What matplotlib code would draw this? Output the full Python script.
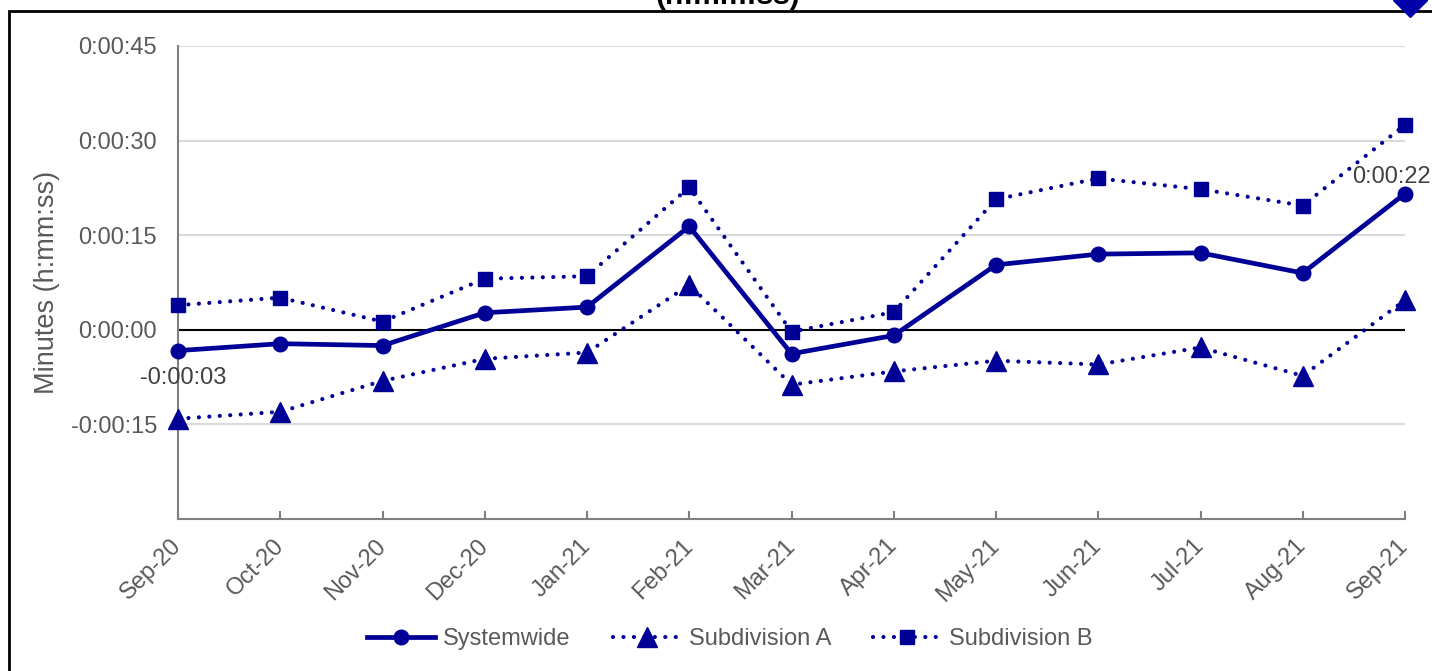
import matplotlib
matplotlib.use("Agg")
import matplotlib.pyplot as plt
from matplotlib.lines import Line2D
from matplotlib.patches import Rectangle

plt.rcParams['font.family'] = ['Liberation Sans', 'DejaVu Sans']

months = ["Sep-20", "Oct-20", "Nov-20", "Dec-20", "Jan-21", "Feb-21", "Mar-21",
          "Apr-21", "May-21", "Jun-21", "Jul-21", "Aug-21", "Sep-21"]
# values in seconds
systemwide = [-3.3, -2.2, -2.5, 2.7, 3.6, 16.4, -3.8, -0.9, 10.3, 12.0, 12.2, 9.0, 21.6]
subdivision_a = [-14.1, -13.0, -8.1, -4.6, -3.6, 7.1, -8.7, -6.6, -4.9, -5.5, -2.8, -7.3, 4.7]
subdivision_b = [3.9, 5.1, 1.3, 8.1, 8.5, 22.6, -0.3, 2.8, 20.7, 24.0, 22.3, 19.7, 32.5]
y_ticks = [-15, 0, 15, 30, 45]


def hms(sec):
    s = int(round(abs(sec)))
    txt = f"{s // 3600}:{(s % 3600) // 60:02d}:{s % 60:02d}"
    return "-" + txt if sec < 0 else txt


W, H = 1432, 671
fig = plt.figure(figsize=(W / 100, H / 100), dpi=100)
ax_w = 1405 - 178
ax = fig.add_axes([178 / W, 1 - 519 / H, ax_w / W, (519 - 46) / H])

navy = "#000096"
grey_txt = "#595959"
fs = 17
x = list(range(len(months)))

ax.set_xlim(0, len(months) - 1)
ax.set_ylim(-30, 45)
ax.set_yticks(y_ticks)
ax.set_yticklabels([hms(v) for v in y_ticks])
for v in y_ticks:
    if v != 0:
        ax.axhline(v, color="#D9D9D9", lw=1.5, zorder=1)
ax.axhline(0, color="black", lw=1.5, zorder=2)

dot = (0, (0.01, 2.5))
ax.plot(x, subdivision_a, color=navy, lw=3.0, ls=dot, dash_capstyle="round",
        marker="^", ms=14, zorder=3, clip_on=False, label="Subdivision A")
ax.plot(x, subdivision_b, color=navy, lw=3.0, ls=dot, dash_capstyle="round",
        marker="s", ms=10, zorder=3, clip_on=False, label="Subdivision B")
ax.plot(x, systemwide, color=navy, lw=3.4, marker="o", ms=10.5, zorder=4,
        clip_on=False, label="Systemwide")

ax.annotate(hms(systemwide[0]), (x[0], systemwide[0]), xytext=(4, -20),
            textcoords="offset points", ha="center", va="center",
            fontsize=fs, color="#404040")
ax.annotate(hms(systemwide[-1]), (x[-1], systemwide[-1]), xytext=(-10, 12),
            textcoords="offset points", ha="center", va="center",
            fontsize=fs, color="#404040")

ax.set_xticks(x)
ax.set_xticklabels(months, rotation=45, ha="right", va="center",
                   rotation_mode="anchor", fontsize=fs, color=grey_txt)
ax.tick_params(axis="x", direction="in", length=6, width=1.5, color="#808080", pad=17)
ax.tick_params(axis="y", length=0, pad=15, labelsize=fs, labelcolor=grey_txt)

for side in ("top", "right"):
    ax.spines[side].set_visible(False)
for side in ("left", "bottom"):
    ax.spines[side].set_color("#808080")
    ax.spines[side].set_linewidth(1.5)

ax.set_ylabel("Minutes (h:mm:ss)", fontsize=19.5, color=grey_txt)
ax.yaxis.set_label_coords(-(178 - 60) / ax_w, 0.5)

handles, labels = ax.get_legend_handles_labels()
order = [2, 0, 1]
leg = fig.legend([handles[i] for i in order], [labels[i] for i in order],
                 loc="center", bbox_to_anchor=(730 / W, 1 - 639 / H), ncol=3,
                 frameon=False, fontsize=fs, handlelength=2.85, handletextpad=0.35,
                 columnspacing=1.8)
for t in leg.get_texts():
    t.set_color(grey_txt)

# chart title, partly above the canvas
fig.text(728 / W, 1 - 4 / H, "(h:mm:ss)", ha="center", va="baseline",
         fontsize=21.5, fontweight="bold", color="black")

# outer frame
fig.add_artist(Rectangle((8.5 / W, -0.1), 1.2, 1 - 11.5 / H + 0.1,
                         transform=fig.transFigure, fill=False,
                         edgecolor="black", lw=2.0))
fig.add_artist(Line2D([1410 / W], [1.0], transform=fig.transFigure, marker="D",
                      ms=17, color="#0000A8", ls="none", clip_on=False))

fig.savefig("out.png", dpi=100, facecolor="white")
